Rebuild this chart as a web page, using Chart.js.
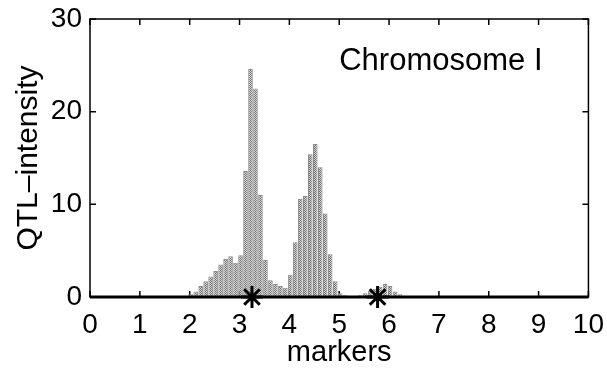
<!DOCTYPE html>
<html>
<head>
<meta charset="utf-8">
<script src="https://cdn.jsdelivr.net/npm/chart.js@4.4.0/dist/chart.umd.min.js"></script>
<style>
  html, body { margin: 0; padding: 0; background: #fff; }
</style>
</head>
<body>
<canvas id="chart" width="607" height="370"></canvas>
<script>
// ==========================
// DATA
// ==========================
const binCenters = [
  2.02, 2.12, 2.22, 2.32, 2.42, 2.52, 2.62, 2.72, 2.82, 2.92,
  3.02, 3.12, 3.22, 3.32, 3.42, 3.52, 3.62, 3.72, 3.82, 3.92,
  4.02, 4.12, 4.22, 4.32, 4.42, 4.52, 4.62, 4.72, 4.82, 4.92,
  5.02, 5.12, 5.22, 5.32, 5.42, 5.52, 5.62, 5.72, 5.82, 5.92,
  6.02, 6.12, 6.22, 6.32
];
const intensity = [
  0.3, 0.6, 1.2, 1.7, 2.2, 2.8, 3.5, 4.1, 4.4, 3.7,
  4.5, 13.6, 24.6, 22.5, 11.0, 4.0, 1.8, 1.4, 1.2, 1.0,
  2.4, 5.9, 10.6, 10.9, 15.4, 16.5, 14.0, 9.0, 4.6, 1.7,
  0.4, 0.2, 0.1, 0.1, 0.2, 0.4, 0.7, 0.9, 1.1, 1.4,
  1.2, 0.6, 0.3, 0.1
];
const markerPos = [3.25, 5.77];
const xTicks = [0, 1, 2, 3, 4, 5, 6, 7, 8, 9, 10];
const yTicks = [0, 10, 20, 30];

const FONT = "'Liberation Sans', Arial, Helvetica, sans-serif";

// stippled grey fill like the printed figure
function makeStipple() {
  const c = document.createElement("canvas");
  c.width = 2;
  c.height = 2;
  const g = c.getContext("2d");
  g.fillStyle = "#d6d6d6";
  g.fillRect(0, 0, 2, 2);
  g.fillStyle = "#6a6a6a";
  g.fillRect(0, 0, 1, 1);
  g.fillRect(1, 1, 1, 1);
  return g.createPattern(c, "repeat");
}

// box + inward ticks, matlab style
const framePlugin = {
  id: "frame",
  beforeDatasetsDraw(chart) {
    const { ctx, chartArea: a, scales } = chart;
    const x = scales.x, y = scales.y;
    ctx.save();
    ctx.strokeStyle = "#000";
    ctx.lineWidth = 1.5;
    ctx.strokeRect(a.left, a.top, a.right - a.left, a.bottom - a.top);
    ctx.beginPath();
    xTicks.forEach(v => {
      const px = x.getPixelForValue(v);
      ctx.moveTo(px, a.bottom);
      ctx.lineTo(px, a.bottom - 6);
      ctx.moveTo(px, a.top);
      ctx.lineTo(px, a.top + 6);
    });
    yTicks.forEach(v => {
      const py = y.getPixelForValue(v);
      ctx.moveTo(a.left, py);
      ctx.lineTo(a.left + 6, py);
      ctx.moveTo(a.right, py);
      ctx.lineTo(a.right - 6, py);
    });
    ctx.stroke();
    ctx.restore();
  },
  afterDatasetsDraw(chart) {
    const { ctx, chartArea: a } = chart;
    ctx.save();
    ctx.strokeStyle = "#000";
    ctx.lineWidth = 3;
    ctx.beginPath();
    ctx.moveTo(a.left, a.bottom);
    ctx.lineTo(a.right, a.bottom);
    ctx.stroke();
    ctx.restore();
  }
};

// "Chromosome I" label inside the axes
const labelPlugin = {
  id: "chromLabel",
  afterDraw(chart) {
    const { ctx, scales } = chart;
    ctx.save();
    ctx.font = "31px " + FONT;
    ctx.fillStyle = "#000";
    ctx.textAlign = "left";
    ctx.textBaseline = "alphabetic";
    ctx.fillText("Chromosome I", scales.x.getPixelForValue(5.0), scales.y.getPixelForValue(24.5));
    ctx.restore();
  }
};

new Chart(document.getElementById("chart"), {
  data: {
    datasets: [
      {
        type: "scatter",
        data: markerPos.map(p => ({ x: p, y: 0 })),
        pointStyle: "star",
        radius: 11,
        borderColor: "#000",
        borderWidth: 3,
        backgroundColor: "#000",
        clip: false,
        order: 0
      },
      {
        type: "bar",
        data: binCenters.map((c, i) => ({ x: c, y: intensity[i] })),
        backgroundColor: makeStipple(),
        borderColor: "#8a8a8a",
        borderWidth: 1,
        barPercentage: 0.92,
        categoryPercentage: 1,
        order: 1
      }
    ]
  },
  options: {
    responsive: false,
    animation: false,
    devicePixelRatio: 1,
    layout: { padding: { top: 19, right: 17, left: 0, bottom: 0 } },
    plugins: { legend: { display: false }, tooltip: { enabled: false } },
    scales: {
      x: {
        type: "linear",
        min: 0,
        max: 10,
        offset: false,
        grid: { display: false },
        border: { display: false },
        ticks: { stepSize: 1, padding: 3, color: "#000", font: { family: FONT, size: 28 } },
        title: { display: true, text: "markers", color: "#000", font: { family: FONT, size: 29 }, padding: { top: 0, bottom: 0 } },
        afterFit(scale) { scale.height = 73; }
      },
      y: {
        min: 0,
        max: 30,
        grid: { display: false },
        border: { display: false },
        ticks: { stepSize: 10, padding: 0, color: "#000", font: { family: FONT, size: 28 } },
        title: { display: true, text: "QTL–intensity", color: "#000", font: { family: FONT, size: 30 }, padding: { top: 11, bottom: 0 } },
        afterFit(scale) { scale.width = 90; }
      }
    }
  },
  plugins: [framePlugin, labelPlugin]
});
</script>
</body>
</html>
